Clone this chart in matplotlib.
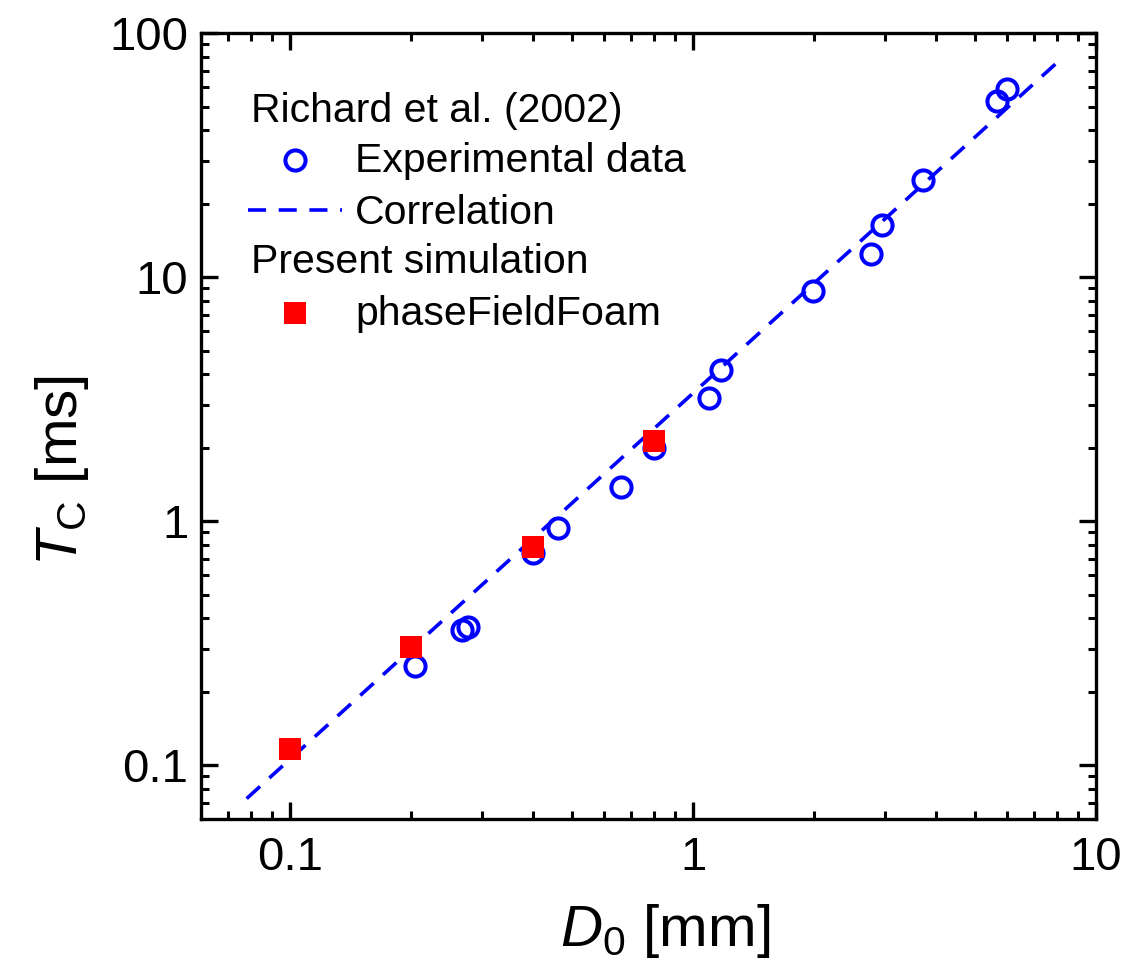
import numpy as np
import matplotlib.pyplot as plt
from matplotlib.lines import Line2D

plt.rcParams['font.family'] = ['Liberation Sans', 'DejaVu Sans']
plt.rcParams['mathtext.fontset'] = 'custom'
plt.rcParams['mathtext.rm'] = 'Liberation Sans'
plt.rcParams['mathtext.it'] = 'Liberation Sans:italic'

# Richard et al. (2002) experimental data
exp_d = [0.204, 0.267, 0.277, 0.40, 0.461, 0.662, 0.80, 1.096, 1.17,
         1.98, 2.76, 2.94, 3.73, 5.69, 6.03]
exp_t = [0.254, 0.358, 0.368, 0.74, 0.936, 1.38, 1.99, 3.19, 4.17,
         8.81, 12.5, 16.4, 25.1, 52.8, 58.9]

# Correlation T = C * D^1.5
corr_c = 3.35
corr_exp = 1.5
corr_range = [0.078, 8.1]

# Present simulation (phaseFieldFoam)
sim_d = [0.1, 0.2, 0.4, 0.8]
sim_t = [0.116, 0.305, 0.787, 2.13]

blue = '#0000ff'
red = '#ff0000'

fig = plt.figure(figsize=(11.38, 9.74), dpi=100)
ax = fig.add_axes([0.1764, 0.1588, 0.7867, 0.8070])

d_line = np.logspace(np.log10(corr_range[0]), np.log10(corr_range[1]), 100)
ax.plot(d_line, corr_c * d_line ** corr_exp, color=blue, lw=2.6,
        dashes=(5, 3.5))
ax.plot(exp_d, exp_t, 'o', ms=14.5, mfc='none', mec=blue, mew=2.9)
ax.plot(sim_d, sim_t, 's', ms=15.5, color=red, mew=0)

ax.set_xscale('log')
ax.set_yscale('log')
ax.set_xlim(0.06, 10)
ax.set_ylim(0.06, 100)
ax.set_xticks([0.1, 1, 10])
ax.set_xticklabels(['0.1', '1', '10'])
ax.set_yticks([0.1, 1, 10, 100])
ax.set_yticklabels(['0.1', '1', '10', '100'])

for s in ax.spines.values():
    s.set_linewidth(2.4)
ax.tick_params(which='both', direction='in', top=True, right=True,
               labelsize=34)
ax.tick_params(which='major', length=12, width=2.4)
ax.tick_params(which='minor', length=6, width=2.2)
ax.tick_params(axis='x', which='major', pad=12)
ax.tick_params(axis='y', which='major', pad=9)

ax.set_xlabel(r'$D_\mathrm{0}$ [mm]', fontsize=42, va='top')
ax.set_ylabel(r'$T_\mathrm{C}$ [ms]', fontsize=42, va='center')
ax.xaxis.set_label_coords(0.519, -0.105)
ax.yaxis.set_label_coords(-0.155, 0.444)

# legend drawn by hand so the group headings sit left of the symbols
fs = 29.5
tr = ax.transAxes
ax.text(0.0558, 0.8875, 'Richard et al. (2002)', fontsize=fs, transform=tr)
ax.add_line(Line2D([0.1053], [0.8388], marker='o', ms=14.5, mfc='none',
                   mec=blue, mew=2.9, transform=tr))
ax.text(0.1723, 0.8239, 'Experimental data', fontsize=fs, transform=tr)
ax.add_line(Line2D([0.0531, 0.1575], [0.7752, 0.7752], color=blue, lw=2.6,
                   dashes=(5, 3.5), transform=tr))
ax.text(0.1723, 0.7569, 'Correlation', fontsize=fs, transform=tr)
ax.text(0.0558, 0.6947, 'Present simulation', fontsize=fs, transform=tr)
ax.add_line(Line2D([0.1053], [0.6441], marker='s', ms=15.5, color=red, mew=0,
                   transform=tr))
ax.text(0.1723, 0.6289, 'phaseFieldFoam', fontsize=fs, transform=tr)

fig.savefig('out.png', dpi=100)
